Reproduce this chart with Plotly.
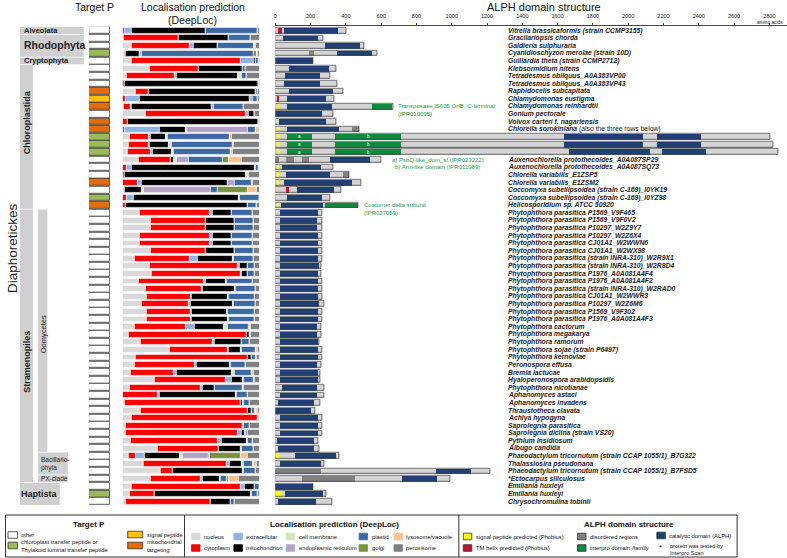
import numpy as np
import plotly.graph_objects as go

W, H = 787, 558
FONT = "Liberation Sans, Arial, sans-serif"

# ---------------- data ----------------
species = [
    "Vitrella brassicaformis (strain CCMP3155)", "Gracilariopsis chorda", "Galdieria sulphuraria",
    "Cyanidioschyzon merolae (strain 10D)", "Guillardia theta (strain CCMP2712)", "Klebsormidium nitens",
    "Tetradesmus obliquus_A0A383VP00", "Tetradesmus obliquus_A0A383VP43", "Raphidocelis subcapitata",
    "Chlamydomonas eustigma", "Chlamydomonas reinhardtii", "Gonium pectorale",
    "Volvox carteri f. nagariensis", "Chlorella sorokiniana", "", "", "",
    "Auxenochlorella protothecoides_A0A087SP29", "Auxenochlorella protothecoides_A0A087SQ73",
    "Chlorella variabilis_E1ZSP5", "Chlorella variabilis_E1ZSM2",
    "Coccomyxa subellipsoidea (strain C-169)_I0YK19", "Coccomyxa subellipsoidea (strain C-169)_I0YZ98",
    "Helicosporidium sp. ATCC 50920",
    "Phytophthora parasitica P1569_V9F465", "Phytophthora parasitica P1569_V9F0V2",
    "Phytophthora parasitica P10297_W2Z9Y7", "Phytophthora parasitica P10297_W2Z6X4",
    "Phytophthora parasitica CJ01A1_W2WWN6", "Phytophthora parasitica CJ01A1_W2WX98",
    "Phytophthora parasitica (strain INRA-310)_W2R9X1", "Phytophthora parasitica (strain INRA-310)_W2R8D4",
    "Phytophthora parasitica P1976_A0A081A4F4", "Phytophthora parasitica P1976_A0A081A4F2",
    "Phytophthora parasitica (strain INRA-310)_W2RAD0", "Phytophthora parasitica CJ01A1_W2WWR3",
    "Phytophthora parasitica P10297_W2Z6M6", "Phytophthora parasitica P1569_V9F302",
    "Phytophthora parasitica P1976_A0A081A4F3", "Phytophthora cactorum", "Phytophthora megakarya",
    "Phytophthora ramorum", "Phytophthora sojae (strain P6497)", "Phytophthora kernoviae",
    "Peronospora effusa", "Bremia lactucae", "Hyaloperonospora arabidopsidis", "Phytophthora nicotianae",
    "Aphanomyces astaci", "Aphanomyces invadens", "Thraustotheca clavata", "Achlya hypogyna",
    "Saprolegnia parasitica", "Saprolegnia diclina (strain VS20)", "Pythium insidiosum", "Albugo candida",
    "Phaeodactylum tricornutum (strain CCAP 1055/1)_B7G322", "Thalassiosira pseudonana",
    "Phaeodactylum tricornutum (strain CCAP 1055/1)_B7FSD5", "*Ectocarpus siliculosus",
    "Emiliania huxleyi", "Emiliania huxleyi", "Chrysochromulina tobinii",
]
rows = np.arange(1, len(species) + 1)

# Target P prediction per row
targetp = ["other"] * 63
for r in [4, 15, 16, 17, 23, 62]:
    targetp[r - 1] = "cTP"
for r in [9, 11, 13, 14, 21, 24]:
    targetp[r - 1] = "mTP"
targetp[10 - 1] = "SP"

# DeepLoc localisation (%), one list per compartment
nucleus = [0, 1, 6.8, 1.5, 6.3, 19.6, 3, 0, 9.7, 0,
           1, 17, 0, 0, 4.8, 4.4, 3.9, 11.6, 0, 0,
           0, 1.5, 0, 0, 12.1, 20.6, 20.6, 12.3, 12.3, 20.6,
           8.5, 19.4, 21.3, 11.6, 16.5, 17.7, 14, 17.7, 17.7, 8.5,
           4.4, 12.8, 34.1, 9.7, 8.7, 6.1, 23.2, 5.1, 0, 1.2,
           13.3, 6.8, 2.4, 2.4, 5.6, 25.7, 4.4, 15.3, 27.4, 20.6,
           6.3, 5.1, 2.4]
cytoplasm = [1.5, 40, 41.9, 1, 79.7, 35.6, 35, 1.5, 9.2, 2.4,
             4.6, 73, 4, 1.5, 14, 14.5, 16.2, 23, 3.1, 1.5,
             10.9, 0, 2.7, 1.9, 51.6, 40, 40, 51.3, 51.3, 40,
             40.7, 64.4, 64.6, 47.2, 41.2, 32.2, 34.4, 32.2, 32.2, 37.5,
             86, 52.8, 42.4, 81.1, 44.1, 31, 51.8, 52.1, 25.7, 84.7,
             77.5, 91.5, 85, 81.8, 63.7, 44.1, 4.8, 60.5, 9, 36.3,
             79.9, 17.9, 61.7]
extracellular = [5.3, 0, 2.9, 0, 9.2, 0, 1.2, 0, 0, 9.9,
                 1.2, 1.7, 0, 25.2, 1.7, 0.7, 1.7, 0, 3.6, 0,
                 3.1, 0, 5.3, 0, 1.7, 0, 0, 1.7, 1.7, 0,
                 5.6, 1.7, 0.7, 1.7, 0.5, 0.5, 1, 0.5, 0.5, 6.3,
                 0.3, 1.2, 0.5, 0, 1, 2, 4.4, 1, 1, 0,
                 0, 0, 0, 2.4, 2.9, 0, 6.5, 1.9, 0, 1.2,
                 2.4, 0, 0]
mitochondrion = [53.7, 36.5, 17, 10, 2, 32, 45, 97.3, 78, 80.4,
                 58, 4.8, 95, 18.9, 11.1, 14.3, 14, 2.4, 89.3, 88.4,
                 62.5, 12.1, 76.3, 89.1, 14, 21.1, 21.1, 14, 14, 21.1,
                 25.2, 5.3, 4.8, 14.5, 23.7, 25.9, 30.8, 25.4, 26, 21.5,
                 1.9, 19.9, 9, 2.9, 24.5, 40.4, 7.8, 8.7, 55.9, 1.9,
                 3.1, 0.5, 0.9, 2.4, 18.2, 16.2, 26.2, 9.4, 50.8, 12.3,
                 7.7, 70.5, 14.5]
cell_membrane = [0, 0, 0, 0, 0, 0, 2.9, 0, 0, 0,
                 0, 0, 0, 1.2, 1.2, 1.5, 1.2, 2.2, 1.2, 1.7,
                 0, 1.7, 0.7, 0.5, 0, 0, 0, 0, 0, 0,
                 0.7, 0.7, 0, 0.7, 0.5, 0.7, 0.9, 0.5, 0.7, 2.4,
                 0, 0, 0.5, 0.5, 0.7, 2, 1.2, 0.5, 0.5, 0.5,
                 0.5, 0, 0, 0.5, 1, 0.7, 1.7, 1.4, 1.2, 1.2,
                 0, 0.5, 0.5]
endoplasmic = [0, 0, 0, 1.5, 0, 0, 0, 0, 0, 2.4,
               1.5, 0, 0, 44, 0, 0, 0, 8.7, 0, 0,
               5.3, 49.2, 0, 0, 0, 0, 0, 0, 0, 0,
               0, 0, 0, 0, 0, 0, 0, 0, 0, 0,
               0, 0, 0, 0, 0, 0, 0, 0, 0, 0,
               0, 0, 0, 0, 0, 0, 18.9, 0, 0, 0,
               0, 0, 0]
plastid = [37.8, 15.5, 26, 81.5, 1.7, 2.7, 3.1, 0, 1.2, 3.1,
           22, 0, 0, 6.1, 45.3, 44.5, 41.6, 24.2, 1.9, 0,
           12.1, 4.8, 15, 6.1, 15.5, 13.8, 13.8, 15.5, 15.5, 13.8,
           15, 4.8, 4.6, 19.4, 14.5, 19.4, 15.7, 20.1, 19.4, 16,
           0.9, 5.6, 10.4, 2.7, 10.9, 12.8, 6.8, 20.1, 7.7, 4.4,
           1.7, 1.2, 4.4, 1.7, 3.4, 8.5, 1.2, 6.5, 8.5, 4.4,
           3.7, 4.1, 2.4]
golgi = [0, 0, 0.7, 2, 0, 0, 0, 0, 0.5, 0,
         0, 0, 0, 0, 0, 0, 0, 4.8, 0, 0,
         1.2, 21.5, 0, 0, 0, 0, 0, 0, 0, 0,
         0, 0, 0, 0, 0, 0, 0, 0, 0, 0.5,
         0, 0, 0, 0.5, 0, 0, 0, 0, 0, 0,
         1.2, 0, 0, 0, 0, 0, 22.3, 0.5, 0, 1.2,
         0, 0, 0]
lysosome = [0, 0, 0.5, 1.2, 0, 0, 0, 0, 0, 0,
            0, 0, 0, 3.1, 1.2, 1.2, 1.5, 9.4, 0, 0,
            0, 6.8, 0, 0, 0, 0, 0, 0, 0, 0,
            0, 0, 0, 0, 0, 0, 0, 0, 0, 0.5,
            0, 0, 1.5, 0, 0, 1, 0.7, 1, 0, 0,
            1.2, 0, 0, 0, 0, 0, 5.1, 2, 0, 7.7,
            0, 0, 0]
peroxisome = [1.7, 7, 3.2, 1.3, 1.1, 10.1, 9.8, 1.2, 1.4, 1.8,
              11.7, 3.5, 1, 0, 20.7, 18.9, 19.9, 12.8, 0.9, 8.4,
              4.9, 2.4, 0, 2.4, 5.1, 4.5, 4.5, 5.2, 5.2, 4.5,
              4.3, 3.7, 4, 4.9, 3.1, 3.6, 3.2, 3.6, 3.5, 6.8,
              6.5, 7.7, 1.6, 2.6, 10.1, 4.7, 4.1, 11.5, 9.2, 7.3,
              1.5, 0, 7.3, 8.8, 5.2, 4.8, 8.9, 2.5, 3.1, 15.1,
              0, 1.9, 18.5]

# ALPH protein length (amino acids) and domains (row, start, end)
alph_length = [401, 270, 505, 577, 216, 345, 313, 354, 388, 335,
               669, 330, 345, 475, 2804, 2823, 2851, 599, 330, 420,
               486, 373, 313, 471, 264, 264, 264, 264, 267, 267,
               267, 260, 258, 267, 267, 267, 279, 267, 267, 263,
               263, 248, 267, 267, 260, 254, 254, 279, 279, 256,
               228, 267, 267, 267, 245, 251, 360, 279, 1217, 991,
               213, 290, 322]
catalytic = [(1, 53, 358), (2, 43, 241), (3, 283, 480), (4, 354, 548), (5, 0, 216),
             (6, 81, 307), (7, 58, 256), (8, 53, 256), (9, 81, 330), (10, 66, 288),
             (11, 66, 322), (12, 0, 266), (13, 25, 288), (14, 68, 362),
             (15, 1639, 2088), (15, 2163, 2414), (16, 1639, 2088), (16, 2163, 2414),
             (17, 1669, 2125), (17, 2195, 2442), (18, 313, 539), (19, 38, 260),
             (20, 62, 311), (21, 49, 435), (22, 124, 332), (23, 66, 264), (24, 34, 270),
             (25, 30, 245), (26, 30, 240), (27, 30, 240), (28, 30, 245), (29, 30, 245),
             (30, 30, 245), (31, 30, 245), (32, 30, 247), (33, 30, 245), (34, 30, 245),
             (35, 30, 245), (36, 30, 245), (37, 30, 247), (38, 30, 245), (39, 30, 245),
             (40, 30, 240), (41, 30, 240), (42, 30, 245), (43, 30, 245), (44, 30, 245),
             (45, 30, 236), (46, 30, 245), (47, 30, 245), (48, 40, 236), (49, 30, 236),
             (50, 15, 222), (51, 0, 203), (52, 30, 245), (53, 30, 245), (54, 30, 245),
             (55, 11, 222), (56, 15, 222), (57, 115, 345), (58, 28, 260), (59, 910, 1108),
             (60, 722, 920), (61, 0, 213), (62, 57, 270), (63, 19, 232)]
disordered = [(4, 194, 222), (14, 439, 475), (18, 0, 25), (18, 62, 109), (18, 153, 194),
              (20, 383, 420), (59, 0, 260), (60, 151, 452)]
signal_peptide = [(11, 10, 25), (14, 10, 28), (15, 10, 28), (16, 10, 28), (17, 10, 28),
                  (19, 10, 25), (20, 10, 25), (21, 10, 25), (24, 10, 25), (57, 8, 25), (62, 7, 38)]
tm_helix = [(1, 19, 38), (10, 10, 25), (22, 62, 81)]
interpro = [(11, 552, 662, ""), (15, 68, 207, "a"), (15, 339, 716, "b"), (16, 68, 207, "a"),
            (16, 339, 716, "b"), (17, 68, 207, "a"), (17, 339, 716, "b"), (24, 284, 471, "")]
interpro_scan = [3, 4, 11, 14, 15, 16, 17, 18, 20, 24, 59, 60]

groups = [("Alveolata", 1, 1), ("Rhodophyta", 2, 4), ("Cryptophyta", 5, 5),
          ("Chloroplastida", 6, 24), ("Stramenopiles", 25, 60), ("Oomycetes", 25, 56),
          ("Bacillario-<br>phyta", 57, 59), ("PX-clade", 60, 60), ("Haptista", 61, 63)]

# ---------------- colours ----------------
loc_names = ["nucleus", "cytoplasm", "extracellular", "mitochondrion", "cell membrane",
             "endoplasmic reticulum", "plastid", "golgi", "lysosome/vacuole", "peroxisome"]
loc_values = [nucleus, cytoplasm, extracellular, mitochondrion, cell_membrane,
              endoplasmic, plastid, golgi, lysosome, peroxisome]
loc_colors = ["#d9d9d9", "#ff0000", "#8db4e2", "#000000", "#d7e4bd",
              "#b3a2c7", "#3d69a3", "#77933c", "#fac090", "#808080"]
tp_colors = {"other": "#ffffff", "cTP": "#9bbb59", "SP": "#ffc000", "mTP": "#e46c0a"}
C_BG, C_DIS, C_CAT = "#d4d4d4", "#808080", "#1f3f75"
C_SIG, C_TM, C_IP = "#ffff00", "#c8102e", "#0b8c3c"
C_GREEN_TXT = "#15a04a"
C_TAX = "#d0d0d0"

# ---------------- geometry ----------------
ROW0, PITCH = 30.5, 7.597
top_px = ROW0 - PITCH / 2
bot_px = ROW0 + 62 * PITCH + PITCH / 2
AA_PX = 0.17689  # pixels per amino acid
X0_ALPH = 274


def px(x):
    return x / W


def py(y):
    return 1 - y / H


fig = go.Figure()

# DeepLoc stacked bars
cum = np.zeros(63)
loc_arr = np.array(loc_values, dtype=float)
loc_arr = loc_arr / loc_arr.sum(axis=0)
for name, vals, col in zip(loc_names, loc_arr, loc_colors):
    fig.add_trace(go.Bar(y=rows, x=vals, base=cum.copy(), orientation="h", width=0.78,
                         marker=dict(color=col, line=dict(color="white", width=0.6)),
                         xaxis="x", yaxis="y", showlegend=False, name=name))
    cum += vals

# Target P column
fig.add_trace(go.Bar(y=rows, x=[1] * 63, base=0, orientation="h", width=0.9,
                     marker=dict(color=[tp_colors[t] for t in targetp],
                                 line=dict(color="#333333", width=0.8)),
                     xaxis="x2", yaxis="y", showlegend=False))

# ALPH domain structure
fig.add_trace(go.Bar(y=rows, x=alph_length, base=0, orientation="h", width=0.76,
                     marker=dict(color=C_BG, line=dict(width=0)),
                     xaxis="x3", yaxis="y", showlegend=False))


def seg_trace(segs, col):
    r = [s[0] for s in segs]
    st = [s[1] for s in segs]
    ln = [s[2] - s[1] for s in segs]
    return go.Bar(y=r, x=ln, base=st, orientation="h", width=0.76,
                  marker=dict(color=col, line=dict(width=0)),
                  xaxis="x3", yaxis="y", showlegend=False)


fig.add_trace(seg_trace(disordered, C_DIS))
fig.add_trace(seg_trace(catalytic, C_CAT))
fig.add_trace(seg_trace(signal_peptide, C_SIG))
fig.add_trace(seg_trace(tm_helix, C_TM))
fig.add_trace(seg_trace(interpro, C_IP))
fig.add_trace(go.Bar(y=rows, x=alph_length, base=0, orientation="h", width=0.76,
                     marker=dict(color="rgba(0,0,0,0)", line=dict(color="#4a4a4a", width=0.8)),
                     xaxis="x3", yaxis="y", showlegend=False))

ann = []
# species labels
for r, s in zip(rows, species):
    if not s:
        continue
    if r == 14:
        txt = "<b><i>Chlorella sorokiniana</i></b> (also the three rows below)"
    else:
        txt = "<b><i>" + s + "</i></b>"
    ann.append(dict(x=1305, y=r, xref="x3", yref="y", text=txt, showarrow=False,
                    xanchor="left", yanchor="middle", font=dict(size=6.8, color="#1a1a1a")))
# interpro scan stars
for r in interpro_scan:
    ann.append(dict(x=-14, y=r + 0.2, xref="x3", yref="y", text="*", showarrow=False,
                    xanchor="center", yanchor="middle", font=dict(size=8, color="#111")))
# a / b tags inside interpro segments
for r, s, e, tag in interpro:
    if tag:
        ann.append(dict(x=(s + e) / 2, y=r, xref="x3", yref="y", text=tag, showarrow=False,
                        xanchor="center", font=dict(size=4.5, color="white")))
# green domain notes
notes = [("Transposase IS605 OrfB, C-terminal", 395, 11), ("(IPR010095)", 395, 12),
         ("a) PsbQ-like_dom_sf (IPR023222)", 389, 18), ("b) Arm-like domain (IPR011989)", 392, 19),
         ("Coatomer delta subunit", 361, 24), ("(IPR027059)", 361, 25)]
for t, x, r in notes:
    ann.append(dict(x=px(x), y=r, xref="paper", yref="y", text=t, showarrow=False,
                    xanchor="left", yanchor="middle", font=dict(size=6, color=C_GREEN_TXT)))

# headers
for t, x, y, s in [("Target P", 93, 7, 10.5), ("Localisation prediction", 191, 7, 10.5),
                   ("(DeepLoc)", 191, 20, 10.5), ("ALPH domain structure", 543, 7, 11)]:
    ann.append(dict(x=px(x), y=py(y), xref="paper", yref="paper", text=t, showarrow=False,
                    xanchor="center", yanchor="middle", font=dict(size=s, color="#111")))
ann.append(dict(x=px(785), y=py(22.3), xref="paper", yref="paper", text="amino acids",
                showarrow=False, xanchor="right", yanchor="middle", font=dict(size=4.8, color="#111")))

# taxonomy boxes
shapes = []
tax_x = {"Alveolata": (18, 82), "Rhodophyta": (18, 82), "Cryptophyta": (18, 82),
         "Chloroplastida": (18, 31), "Stramenopiles": (18, 31), "Oomycetes": (36, 45.5),
         "Bacillario-<br>phyta": (36, 66), "PX-clade": (36, 66), "Haptista": (18, 58)}
for name, r0, r1 in groups:
    x0, x1 = tax_x[name]
    shapes.append(dict(type="rect", xref="paper", yref="y", x0=px(x0), x1=px(x1),
                       y0=r0 - 0.45, y1=r1 + 0.45, fillcolor=C_TAX, line=dict(width=0), layer="below"))
tax_text = [("Alveolata", 20, 1, 7.5, True, 0, "left"),
            ("Rhodophyta", 20, 2.85, 10.5, True, 0, "left"),
            ("Cryptophyta", 20, 5, 7.5, True, 0, "left"),
            ("Chloroplastida", 25, 13.1, 9, True, -90, "center"),
            ("Stramenopiles", 25, 44.6, 9, True, -90, "center"),
            ("Oomycetes", 41, 41, 7.5, False, -90, "center"),
            ("Bacillario-<br>phyta", 37, 58, 6.5, False, 0, "left"),
            ("PX-clade", 37, 60, 6.5, False, 0, "left"),
            ("Haptista", 38, 62, 9, True, 0, "center")]
for t, x, r, s, b, ang, xa in tax_text:
    ann.append(dict(x=px(x), y=r, xref="paper", yref="y", text=(f"<b>{t}</b>" if b else t),
                    showarrow=False, xanchor=xa, yanchor="middle", textangle=ang,
                    align="left", font=dict(size=s, color="#222")))
ann.append(dict(x=px(10), y=py(248), xref="paper", yref="paper", text="Diaphoretickes",
                showarrow=False, textangle=-90, xanchor="center", yanchor="middle",
                font=dict(size=13.5, color="#222")))

# ---------------- legend panel ----------------
LY0, LY1 = 515, 557
shapes.append(dict(type="rect", xref="paper", yref="paper", x0=px(3.5), x1=px(737),
                   y0=py(LY1), y1=py(LY0), line=dict(color="#333", width=1)))
for xd in (183, 458):
    shapes.append(dict(type="line", xref="paper", yref="paper", x0=px(xd), x1=px(xd),
                       y0=py(LY1), y1=py(LY0), line=dict(color="#333", width=1)))
for t, x in [("Target P", 87), ("Localisation prediction (DeepLoc)", 333), ("ALPH domain structure", 629)]:
    ann.append(dict(x=px(x), y=py(524), xref="paper", yref="paper", text=f"<b>{t}</b>",
                    showarrow=False, xanchor="center", yanchor="middle",
                    font=dict(size=8, color="#111")))


def leg_item(x, y, w, col, label, edge="#333"):
    shapes.append(dict(type="rect", xref="paper", yref="paper", x0=px(x), x1=px(x + w),
                       y0=py(y + 3.3), y1=py(y - 3.3), fillcolor=col, line=dict(color=edge, width=0.8)))
    ann.append(dict(x=px(x + w + 2), y=py(y), xref="paper", yref="paper", text=label,
                    showarrow=False, xanchor="left", yanchor="middle", align="left",
                    font=dict(size=5.8, color="#111")))


leg_item(6, 535, 9.5, tp_colors["other"], "other")
leg_item(6, 545.5, 9.5, tp_colors["cTP"], "chloroplast transfer peptide or<br>Thylakoid luminal transfer peptide")
leg_item(126, 534.5, 15, tp_colors["SP"], "signal peptide")
leg_item(126, 545.5, 15, tp_colors["mTP"], "mitochondrial<br>targeting")

loc_pos = [(190, 536.5), (190, 548), (232.5, 536.5), (232.5, 548), (285, 536.5),
           (285, 548), (358, 536.5), (358, 548), (393, 536.5), (393, 548)]
for (x, y), name, col in zip(loc_pos, loc_names, loc_colors):
    leg_item(x, y, 8.5, col, name, edge=col)

leg_item(462.5, 536.5, 8.5, C_SIG, "signal peptide predicted (Phobius)")
leg_item(462.5, 548, 8.5, C_TM, "TM helix predicted (Phobius)")
leg_item(577, 536.5, 8.5, C_DIS, "disordered regions")
leg_item(577, 548, 8.5, C_IP, "interpro domain /family")
leg_item(656.5, 535.5, 8.5, C_CAT, "catalytic domain (ALPH)")
ann.append(dict(x=px(660.5), y=py(547), xref="paper", yref="paper", text="*", showarrow=False,
                xanchor="center", yanchor="middle", font=dict(size=8, color="#111")))
ann.append(dict(x=px(667.5), y=py(541), xref="paper", yref="paper",
                text="protein was tested by<br>Interpro Scan", showarrow=False, xanchor="left",
                yanchor="top", align="left", font=dict(size=5.6, color="#111")))

fig.update_layout(
    width=W, height=H, margin=dict(l=0, r=0, t=0, b=0),
    paper_bgcolor="white", plot_bgcolor="white", barmode="overlay", bargap=0,
    font=dict(family=FONT, color="#111"),
    xaxis=dict(domain=[px(121), px(258.5)], range=[0, 1], visible=False, fixedrange=True),
    xaxis2=dict(domain=[px(87.3), px(108.3)], range=[0, 1], visible=False, fixedrange=True),
    xaxis3=dict(domain=[px(X0_ALPH), 1], range=[0, (W - X0_ALPH) / AA_PX], anchor="free",
                position=py(25), side="top", showline=True, linecolor="#444", linewidth=1,
                ticks="outside", ticklen=2, tickcolor="#444", tickvals=list(range(0, 2801, 200)),
                ticklabelstandoff=3,
                tickfont=dict(size=5.5, color="#111"), showgrid=False, zeroline=False, fixedrange=True),
    yaxis=dict(domain=[py(bot_px), py(top_px)], range=[63.5, 0.5], visible=False, fixedrange=True),
    annotations=ann, shapes=shapes,
)

# the page body has a default 8px margin; drop it so the figure fills the window
fig.write_html("out.html", config={"displayModeBar": False},
               post_script="document.body.style.margin='0';")
